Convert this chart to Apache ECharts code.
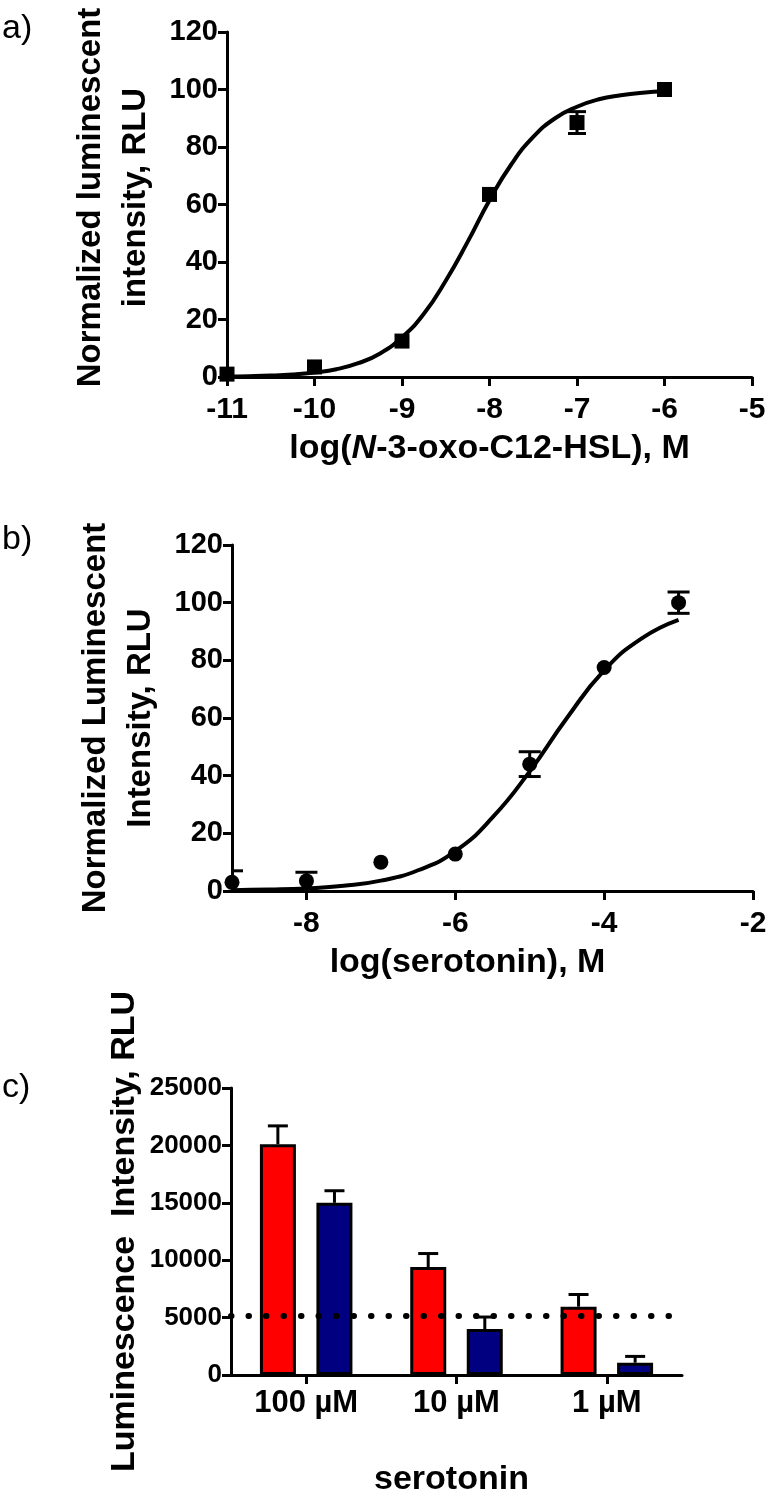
<!DOCTYPE html>
<html><head><meta charset="utf-8">
<script src="https://cdn.jsdelivr.net/npm/echarts@6/dist/echarts.min.js"></script>
<style>html,body{margin:0;padding:0;background:#fff}#c{width:772px;height:1498px}</style>
</head><body><div id="c"></div>
<script>
// ---------- Panel a data ----------
const aX = [-11, -10, -9, -8, -7, -6];
const aY = [1.0, 3.5, 12.5, 63.5, 88.5, 100];
const aErr = [0, 0, 0, 0, 3.8, 0];
const aCurveX = [-11, -10.75, -10.5, -10.25, -10, -9.75, -9.5, -9.25, -9, -8.75, -8.5, -8.25, -8, -7.75, -7.5, -7.25, -7, -6.75, -6.5, -6.25, -6];
const aCurveY = [0.2, 0.3, 0.5, 0.9, 1.6, 2.7, 4.8, 8.2, 13.8, 22, 33.5, 47, 61.5, 74, 83.5, 90, 94, 96.6, 98, 98.9, 99.4];
const aXTicks = [-11, -10, -9, -8, -7, -6, -5];

// ---------- Panel b data ----------
const bX = [-9, -8, -7, -6, -5, -4, -3];
const bY = [3, 3.5, 10, 12.8, 44, 77.5, 100];
const bErr = [4, 3, 0, 0, 4.3, 0, 3.7];
const bCurveX = [-9, -8.5, -8, -7.5, -7, -6.5, -6, -5.5, -5, -4.5, -4, -3.5, -3];
const bCurveY = [0.3, 0.5, 0.9, 1.8, 3.6, 7.2, 13.8, 25.5, 41.5, 60, 76.5, 87.5, 94];
const bXTicks = [-8, -6, -4, -2];

// ---------- Panel c data ----------
const cCategories = ['100 µM', '10 µM', '1 µM'];
const cRed = [20100, 9400, 5950];
const cRedErr = [1600, 1180, 1060];
const cBlue = [15000, 4000, 1070];
const cBlueErr = [1050, 1050, 550];
const cThreshold = 5200;

const FONT = "'Liberation Sans', Arial, sans-serif";
const BLACK = '#000';

function errRender(capHalf, upOnly, dx) {
  return function (params, api) {
    const x = api.value(0), lo = api.value(1), hi = api.value(2);
    const pLo = api.coord([x, lo]), pHi = api.coord([x, hi]);
    const off = dx || 0;
    const st = { stroke: BLACK, lineWidth: 3 };
    const ch = [
      { type: 'line', shape: { x1: pHi[0] + off, y1: pHi[1], x2: pLo[0] + off, y2: pLo[1] }, style: st },
      { type: 'line', shape: { x1: pHi[0] + off - capHalf, y1: pHi[1], x2: pHi[0] + off + capHalf, y2: pHi[1] }, style: st }
    ];
    if (!upOnly) ch.push({ type: 'line', shape: { x1: pLo[0] + off - capHalf, y1: pLo[1], x2: pLo[0] + off + capHalf, y2: pLo[1] }, style: st });
    return { type: 'group', children: ch };
  };
}

function valueXAxis(gi, min, max, ticks, name, namePad) {
  return {
    type: 'value', gridIndex: gi, min: min, max: max,
    axisLine: { show: true, onZero: false, lineStyle: { color: BLACK, width: 3 } },
    axisTick: { show: true, inside: false, length: 9, lineStyle: { color: BLACK, width: 3 }, customValues: ticks },
    axisLabel: { show: true, customValues: ticks, margin: 18, color: BLACK, fontSize: 30, fontWeight: 'bold', fontFamily: FONT },
    splitLine: { show: false },
    name: name, nameLocation: 'middle', nameGap: 55,
    nameTextStyle: { color: BLACK, fontSize: 34, fontWeight: 'bold', fontFamily: FONT, padding: namePad,
      rich: { i: { fontStyle: 'italic', fontWeight: 'bold', fontSize: 34, fontFamily: FONT, color: BLACK } } }
  };
}

function valueYAxis(gi, max, interval, name, nameGap, fs, labelFs, namePad, moveOverlap) {
  return {
    type: 'value', gridIndex: gi, min: 0, max: max, interval: interval,
    axisLine: { show: true, onZero: false, lineStyle: { color: BLACK, width: 3 } },
    axisTick: { show: true, inside: false, length: 9, lineStyle: { color: BLACK, width: 3 } },
    axisLabel: { margin: 9, color: BLACK, fontSize: labelFs, fontWeight: 'bold', fontFamily: FONT,
      formatter: function (v) { return String(v); } },
    splitLine: { show: false },
    name: name, nameLocation: 'middle', nameRotate: 90, nameGap: nameGap, nameMoveOverlap: moveOverlap,
    nameTextStyle: { color: BLACK, fontSize: fs, fontWeight: 'bold', fontFamily: FONT, lineHeight: 45, padding: namePad }
  };
}

const option = {
  backgroundColor: '#fff',
  animation: false,
  graphic: [
    { type: 'text', left: 2, top: 12, style: { text: 'a)', fontSize: 34, fontFamily: FONT, fill: BLACK } },
    { type: 'text', left: 2, top: 523, style: { text: 'b)', fontSize: 34, fontFamily: FONT, fill: BLACK } },
    { type: 'text', left: 2, top: 1071, style: { text: 'c)', fontSize: 34, fontFamily: FONT, fill: BLACK } }
  ],
  grid: [
    { left: 227, right: 20, top: 32, height: 345 },
    { left: 232, right: 19, top: 545, height: 346 },
    { left: 231, right: 90, top: 1088, height: 297 }
  ],
  xAxis: [
    valueXAxis(0, -11, -5, aXTicks, 'log({i|N}-3-oxo-C12-HSL), M', [0, 0, 0, 0]),
    valueXAxis(1, -9, -2, bXTicks, 'log(serotonin), M', [0, 50, 0, 0]),
    {
      type: 'category', gridIndex: 2, data: cCategories,
      axisLine: { show: true, lineStyle: { color: BLACK, width: 3 } },
      axisTick: { show: true, alignWithLabel: true, length: 9, lineStyle: { color: BLACK, width: 3 } },
      axisLabel: { margin: 13, color: BLACK, fontSize: 31, fontWeight: 'bold', fontFamily: FONT },
      name: 'serotonin', nameLocation: 'middle', nameGap: 88,
      nameTextStyle: { color: BLACK, fontSize: 34, fontWeight: 'bold', fontFamily: FONT, padding: [0, 10, 0, 0] }
    }
  ],
  yAxis: [
    valueYAxis(0, 120, 20, 'Normalized luminescent\nintensity, RLU', 66, 33, 29, [0, 0, 0, 14], true),
    valueYAxis(1, 120, 20, 'Normalized Luminescent\nIntensity, RLU', 66, 33, 29, [0, 0, 0, 0], true),
    valueYAxis(2, 25000, 5000, 'Luminescence  Intensity, RLU', 84, 34, 26, [0, 0, 0, 0], false)
  ],
  series: [
    // Panel a
    { type: 'line', xAxisIndex: 0, yAxisIndex: 0, data: aCurveX.map((x, i) => [x, aCurveY[i]]),
      smooth: true, showSymbol: false, lineStyle: { color: BLACK, width: 4 }, z: 3 },
    { type: 'custom', xAxisIndex: 0, yAxisIndex: 0, renderItem: errRender(9, false),
      data: aX.map((x, i) => [x, aY[i] - aErr[i], aY[i] + aErr[i]]).filter((d, i) => aErr[i] > 0), z: 4 },
    { type: 'scatter', xAxisIndex: 0, yAxisIndex: 0, symbol: 'rect', symbolSize: 15,
      data: aX.map((x, i) => [x, aY[i]]), itemStyle: { color: BLACK, opacity: 1 }, z: 5 },
    // Panel b
    { type: 'line', xAxisIndex: 1, yAxisIndex: 1, data: bCurveX.map((x, i) => [x, bCurveY[i]]),
      smooth: true, showSymbol: false, lineStyle: { color: BLACK, width: 4 }, z: 3 },
    { type: 'custom', xAxisIndex: 1, yAxisIndex: 1, renderItem: errRender(11, false), clip: true,
      data: bX.map((x, i) => [x, bY[i] - bErr[i], bY[i] + bErr[i]]).filter((d, i) => bErr[i] > 0), z: 4 },
    { type: 'scatter', xAxisIndex: 1, yAxisIndex: 1, symbol: 'circle', symbolSize: 15,
      data: bX.map((x, i) => [x, bY[i]]), itemStyle: { color: BLACK, opacity: 1 }, z: 5 },
    // Panel c
    { type: 'line', xAxisIndex: 2, yAxisIndex: 2, data: [], z: 1,
      markLine: { silent: true, symbol: ['none', 'none'], label: { show: false },
        lineStyle: { color: BLACK, width: 6, type: [0.5, 17], cap: 'round', opacity: 1 },
        data: [{ yAxis: cThreshold }] } },
    { type: 'bar', xAxisIndex: 2, yAxisIndex: 2, data: cRed, barWidth: 36, barGap: '57%', z: 2,
      itemStyle: { color: '#FF0000', borderColor: BLACK, borderWidth: 3 } },
    { type: 'bar', xAxisIndex: 2, yAxisIndex: 2, data: cBlue, barWidth: 36, barGap: '57%', z: 2,
      itemStyle: { color: '#000080', borderColor: BLACK, borderWidth: 3 } },
    { type: 'custom', xAxisIndex: 2, yAxisIndex: 2, renderItem: errRender(10, true, -28.3), z: 3,
      data: cRed.map((v, i) => [i, v, v + cRedErr[i]]) },
    { type: 'custom', xAxisIndex: 2, yAxisIndex: 2, renderItem: errRender(10, true, 28.3), z: 3,
      data: cBlue.map((v, i) => [i, v, v + cBlueErr[i]]) }
  ]
};

const chart = echarts.init(document.getElementById('c'), null, { renderer: 'canvas' });
chart.setOption(option);
</script>
</body></html>
